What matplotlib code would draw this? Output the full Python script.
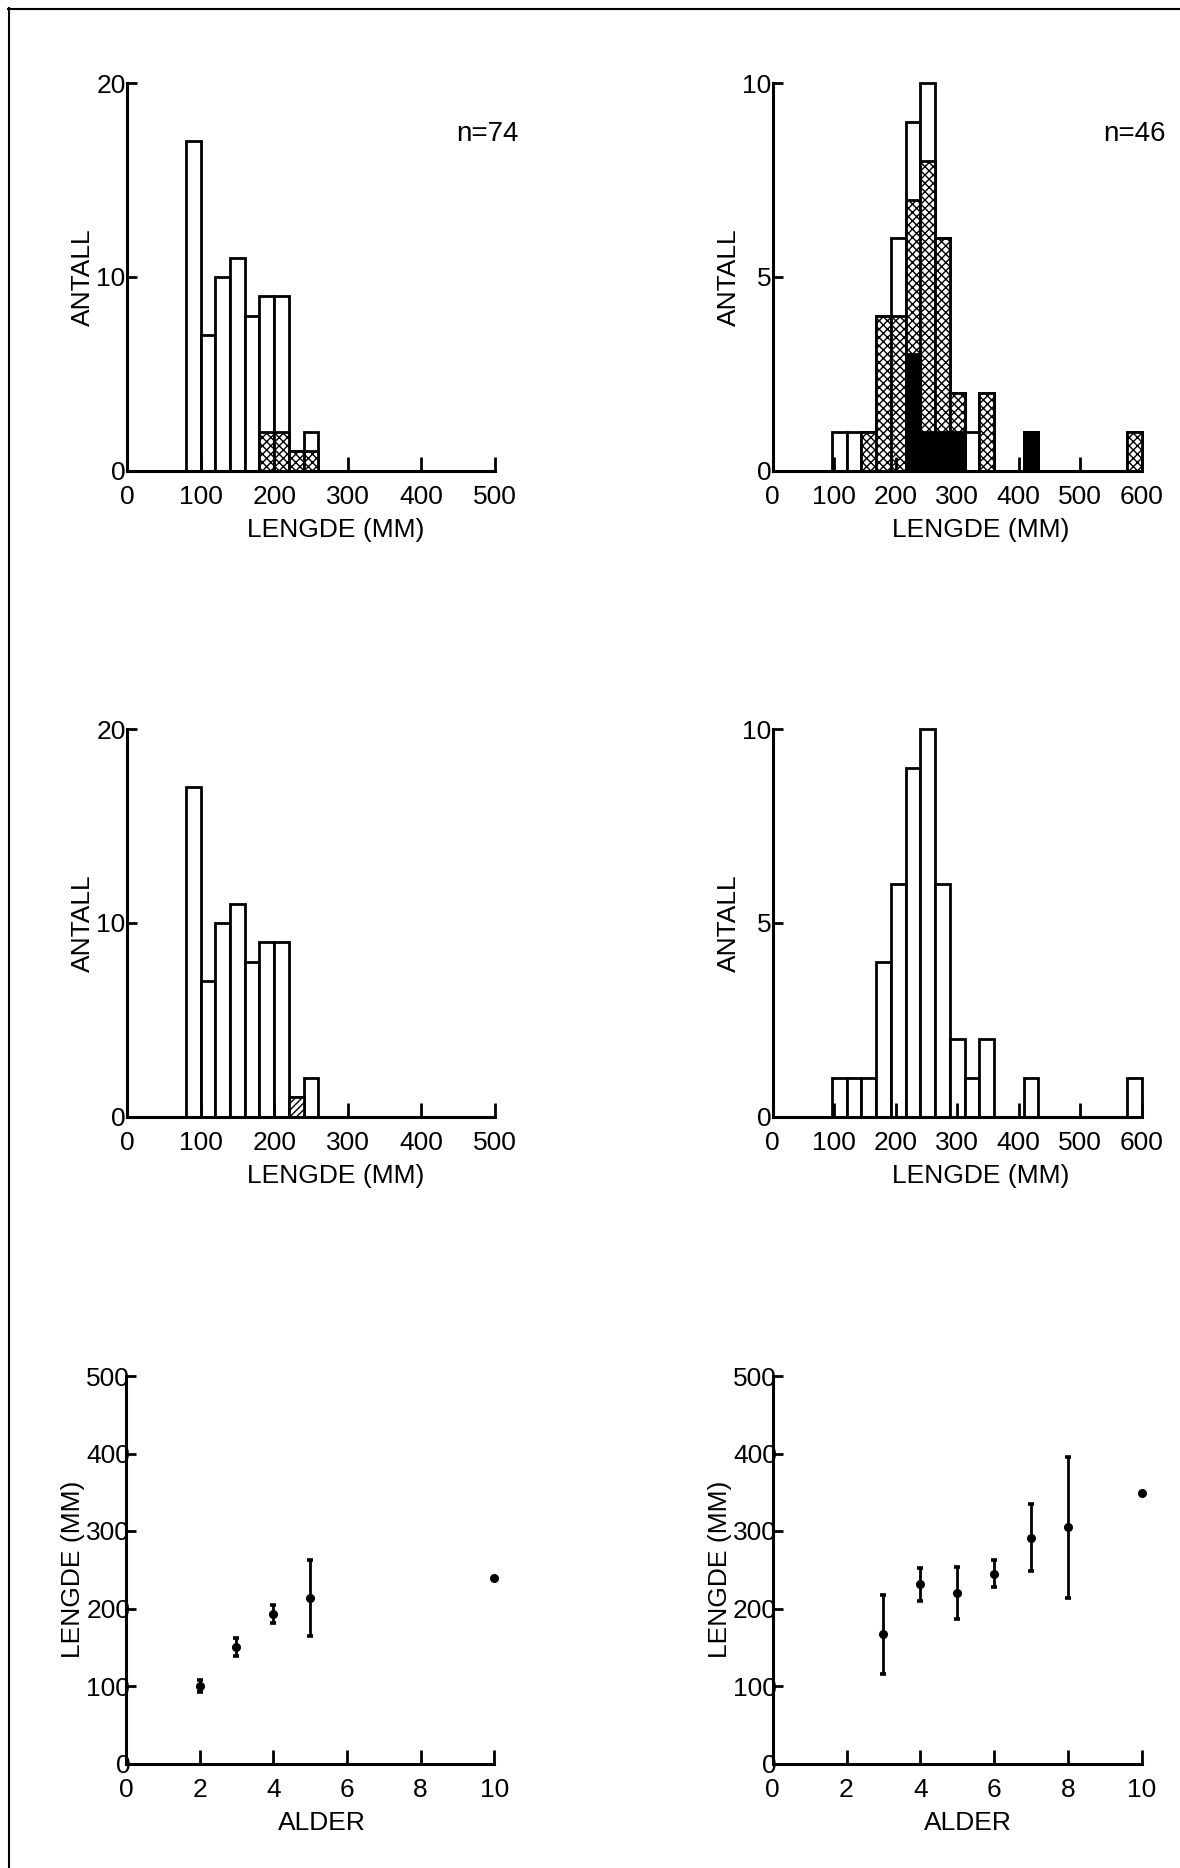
import numpy as np
import matplotlib
matplotlib.use("Agg")
import matplotlib.pyplot as plt
from matplotlib.lines import Line2D

plt.rcParams['font.family'] = ['Liberation Sans', 'DejaVu Sans']
plt.rcParams['hatch.linewidth'] = 1.0

# ---------------- data ----------------
# left histograms (bin width 20 mm)
left_bin_start = [80, 100, 120, 140, 160, 180, 200, 220, 240]
left_bin_width = 20
left_total = [17, 7, 10, 11, 8, 9, 9, 1, 2]
left_cross = [0, 0, 0, 0, 0, 2, 2, 1, 1]        # crosshatched part (top panel)
left_diag = [0, 0, 0, 0, 0, 0, 0, 1, 0]         # diagonal hatched part (middle panel)
left_n = "n=74"

# right histograms (bin width 24 mm)
right_bin_start = [96, 120, 144, 168, 192, 216, 240, 264, 288, 312, 336, 408, 576]
right_bin_width = 24
right_total = [1, 1, 1, 4, 6, 9, 10, 6, 2, 1, 2, 1, 1]
right_black = [0, 0, 0, 0, 0, 3, 1, 1, 1, 0, 0, 1, 0]
right_cross = [0, 0, 1, 4, 4, 4, 7, 5, 1, 0, 2, 0, 1]
right_n = "n=46"

# length at age
left_age = [2, 3, 4, 5, 10]
left_mean = [100, 150.5, 192.5, 213.5, 239]
left_sd = [7.5, 11.5, 11.8, 48.6, 0]

right_age = [3, 4, 5, 6, 7, 8, 10]
right_mean = [166.5, 231, 220, 245, 291, 305, 349.5]
right_sd = [50.5, 21, 33.6, 17.6, 43.2, 91, 0]

hist_xlabel = "LENGDE (MM)"
hist_ylabel = "ANTALL"
age_xlabel = "ALDER"
age_ylabel = "LENGDE (MM)"

# ---------------- figure ----------------
W, H = 1180, 1868
fig = plt.figure(figsize=(W / 100, H / 100), dpi=100)

LW = 2.0
TICK_FS = 19
LAB_FS = 19


def axes_px(x0, x1, ytop, ybot):
    return fig.add_axes([x0 / W, 1 - ybot / H, (x1 - x0) / W, (ybot - ytop) / H])


def style(ax, xticks, yticks, ypad, xlab, ylab, xlab_x, ylab_x):
    for s in ("top", "right"):
        ax.spines[s].set_visible(False)
    for s in ("left", "bottom"):
        ax.spines[s].set_linewidth(LW * 1.1)
    ax.set_xticks(xticks)
    ax.set_yticks(yticks)
    ax.tick_params(axis="x", direction="in", length=10, width=LW,
                   labelsize=TICK_FS, pad=10.5)
    ax.tick_params(axis="y", direction="in", length=7, width=LW,
                   labelsize=TICK_FS, pad=ypad)
    ax.text(xlab_x, -0.171, xlab, transform=ax.transAxes, ha="center",
            va="baseline", fontsize=LAB_FS)
    ax.text(ylab_x, 0.5, ylab, transform=ax.transAxes, ha="center",
            va="center", rotation=90, fontsize=LAB_FS)
    ax.patch.set_alpha(0)


def draw_bars(ax, starts, width, heights, bottoms=None, face="white", hatch=None):
    if bottoms is None:
        bottoms = [0] * len(starts)
    for s, h, b in zip(starts, heights, bottoms):
        if h <= 0:
            continue
        ax.bar(s, h, width=width, bottom=b, align="edge", facecolor=face,
               edgecolor="black", linewidth=LW, hatch=hatch, clip_on=False)


# ---- top-left ----
ax1 = axes_px(127, 495, 83.3, 470.7)
draw_bars(ax1, left_bin_start, left_bin_width, left_total)
draw_bars(ax1, left_bin_start, left_bin_width, left_cross, hatch="xxxx")
ax1.set_xlim(0, 500)
ax1.set_ylim(0, 20)
style(ax1, range(0, 501, 100), [0, 10, 20], 1, hist_xlabel, hist_ylabel, 0.568, -0.12)
ax1.text(487 / W, 1 - 134 / H, left_n, transform=fig.transFigure, ha="center",
         va="center", fontsize=20)

# ---- top-right ----
ax2 = axes_px(772.7, 1141.7, 83.3, 470.7)
draw_bars(ax2, right_bin_start, right_bin_width, right_total)
cross_top = [b + c for b, c in zip(right_black, right_cross)]
draw_bars(ax2, right_bin_start, right_bin_width, cross_top, hatch="xxxx")
draw_bars(ax2, right_bin_start, right_bin_width, right_black, face="black")
ax2.set_xlim(0, 600)
ax2.set_ylim(0, 10)
style(ax2, range(0, 601, 100), [0, 5, 10], 1, hist_xlabel, hist_ylabel, 0.5645, -0.118)
ax2.text(1134 / W, 1 - 134 / H, right_n, transform=fig.transFigure, ha="center",
         va="center", fontsize=20)

# ---- middle-left ----
ax3 = axes_px(127, 495, 729.3, 1116.7)
draw_bars(ax3, left_bin_start, left_bin_width, left_total)
draw_bars(ax3, left_bin_start, left_bin_width, left_diag, hatch="/////")
ax3.set_xlim(0, 500)
ax3.set_ylim(0, 20)
style(ax3, range(0, 501, 100), [0, 10, 20], 1, hist_xlabel, hist_ylabel, 0.568, -0.12)

# ---- middle-right ----
ax4 = axes_px(772.7, 1141.7, 729.3, 1116.7)
draw_bars(ax4, right_bin_start, right_bin_width, right_total)
ax4.set_xlim(0, 600)
ax4.set_ylim(0, 10)
style(ax4, range(0, 601, 100), [0, 5, 10], 1, hist_xlabel, hist_ylabel, 0.5645, -0.118)


# ---- bottom panels ----
def age_plot(ax, age, mean, sd):
    age = np.array(age, float)
    mean = np.array(mean, float)
    sd = np.array(sd, float)
    m = sd > 0
    ax.errorbar(age[m], mean[m], yerr=sd[m], fmt="none", ecolor="black",
                elinewidth=LW, capsize=2, capthick=LW * 1.3, clip_on=False)
    ax.plot(age, mean, "o", color="black", markersize=5.5, clip_on=False)
    ax.set_xlim(0, 10)
    ax.set_ylim(0, 500)


ax5 = axes_px(126, 494.3, 1376, 1763.5)
age_plot(ax5, left_age, left_mean, left_sd)
style(ax5, range(0, 11, 2), range(0, 501, 100), -3, age_xlabel, age_ylabel, 0.531, -0.144)

ax6 = axes_px(772.7, 1141.7, 1376, 1763.5)
age_plot(ax6, right_age, right_mean, right_sd)
style(ax6, range(0, 11, 2), range(0, 501, 100), -3, age_xlabel, age_ylabel, 0.530, -0.143)

# ---- frame lines (top and left only) ----
fig.add_artist(Line2D([8 / W, 1], [1 - 8.5 / H, 1 - 8.5 / H], color="black",
                      lw=1.5, transform=fig.transFigure))
fig.add_artist(Line2D([8.5 / W, 8.5 / W], [0, 1 - 8 / H], color="black",
                      lw=1.5, transform=fig.transFigure))

fig.savefig("out.png", dpi=100, facecolor="white")
